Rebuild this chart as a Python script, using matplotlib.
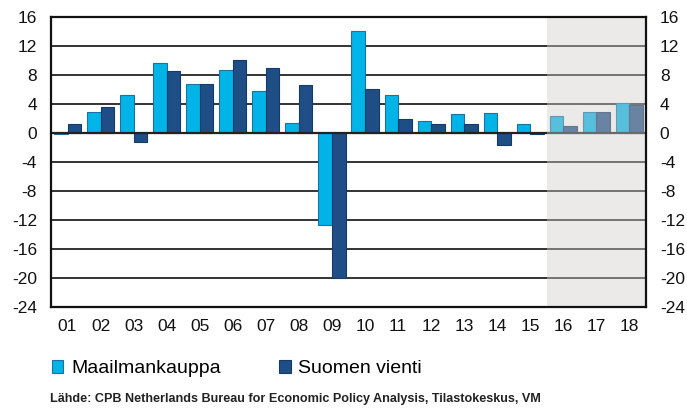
import matplotlib.pyplot as plt
import numpy as np

plt.rcParams['font.family'] = ['Liberation Sans', 'DejaVu Sans']
plt.rcParams['axes.unicode_minus'] = False

years = ['01', '02', '03', '04', '05', '06', '07', '08', '09', '10',
         '11', '12', '13', '14', '15', '16', '17', '18']
maailmankauppa = [-0.2, 2.9, 5.2, 9.6, 6.7, 8.7, 5.8, 1.4, -12.7, 14.1,
                  5.3, 1.6, 2.6, 2.8, 1.2, 2.3, 2.9, 4.2]
suomen_vienti = [1.3, 3.6, -1.2, 8.6, 6.7, 10.1, 9.0, 6.6, -20.0, 6.1,
                 2.0, 1.2, 1.2, -1.6, -0.1, 1.0, 2.9, 3.8]
forecast_from = '16'
yticks = [16, 12, 8, 4, 0, -4, -8, -12, -16, -20, -24]

light = '#00B4E8'
dark = '#1F4E86'

fig = plt.figure(figsize=(6.87, 4.09), dpi=100)
ax = fig.add_axes([0.0742, 0.2494, 0.8661, 0.709])

x = np.arange(len(years))
w = 0.41
ax.bar(x - w / 2, maailmankauppa, w, color=light, edgecolor='#1F6FA0',
       linewidth=0.8, zorder=3, label='Maailmankauppa')
ax.bar(x + w / 2, suomen_vienti, w, color=dark, edgecolor='#163A66',
       linewidth=0.8, zorder=3, label='Suomen vienti')

for t in yticks:
    ax.axhline(t, color='#333333', lw=1.4, zorder=1)
ax.axhline(0, color='#222222', lw=1.6, zorder=4)

# forecast overlay
fi = years.index(forecast_from)
ax.axvspan(fi - 0.5, len(years) - 0.5, color='#D0CECA', alpha=0.42,
           lw=0, zorder=5)

ax.set_xlim(-0.5, len(years) - 0.5)
ax.set_ylim(-24, 16)
ax.set_yticks(yticks)
ax.set_xticks(x)
ax.set_xticklabels(years)
ax.tick_params(axis='both', length=0, labelsize=12.5, colors='#111111')
ax.tick_params(axis='x', pad=9)
ax.tick_params(axis='y', pad=10, labelright=True)
for s in ax.spines.values():
    s.set_linewidth(1.6)
    s.set_color('#111111')
    s.set_zorder(6)

handles, labels = ax.get_legend_handles_labels()
fig.legend(handles, labels, loc='center left', bbox_to_anchor=(0.075, 0.098),
           ncol=2, frameon=False, fontsize=14, handlelength=0.6,
           handleheight=0.6, handletextpad=0.4, columnspacing=3.0,
           borderaxespad=0, borderpad=0)

fig.text(0.073, 0.025, 'Lähde: CPB Netherlands Bureau for Economic Policy Analysis, Tilastokeskus, VM',
         fontsize=9.1, fontweight='bold', color='#222222', va='center')

fig.savefig('out.png', dpi=100, facecolor='white')
